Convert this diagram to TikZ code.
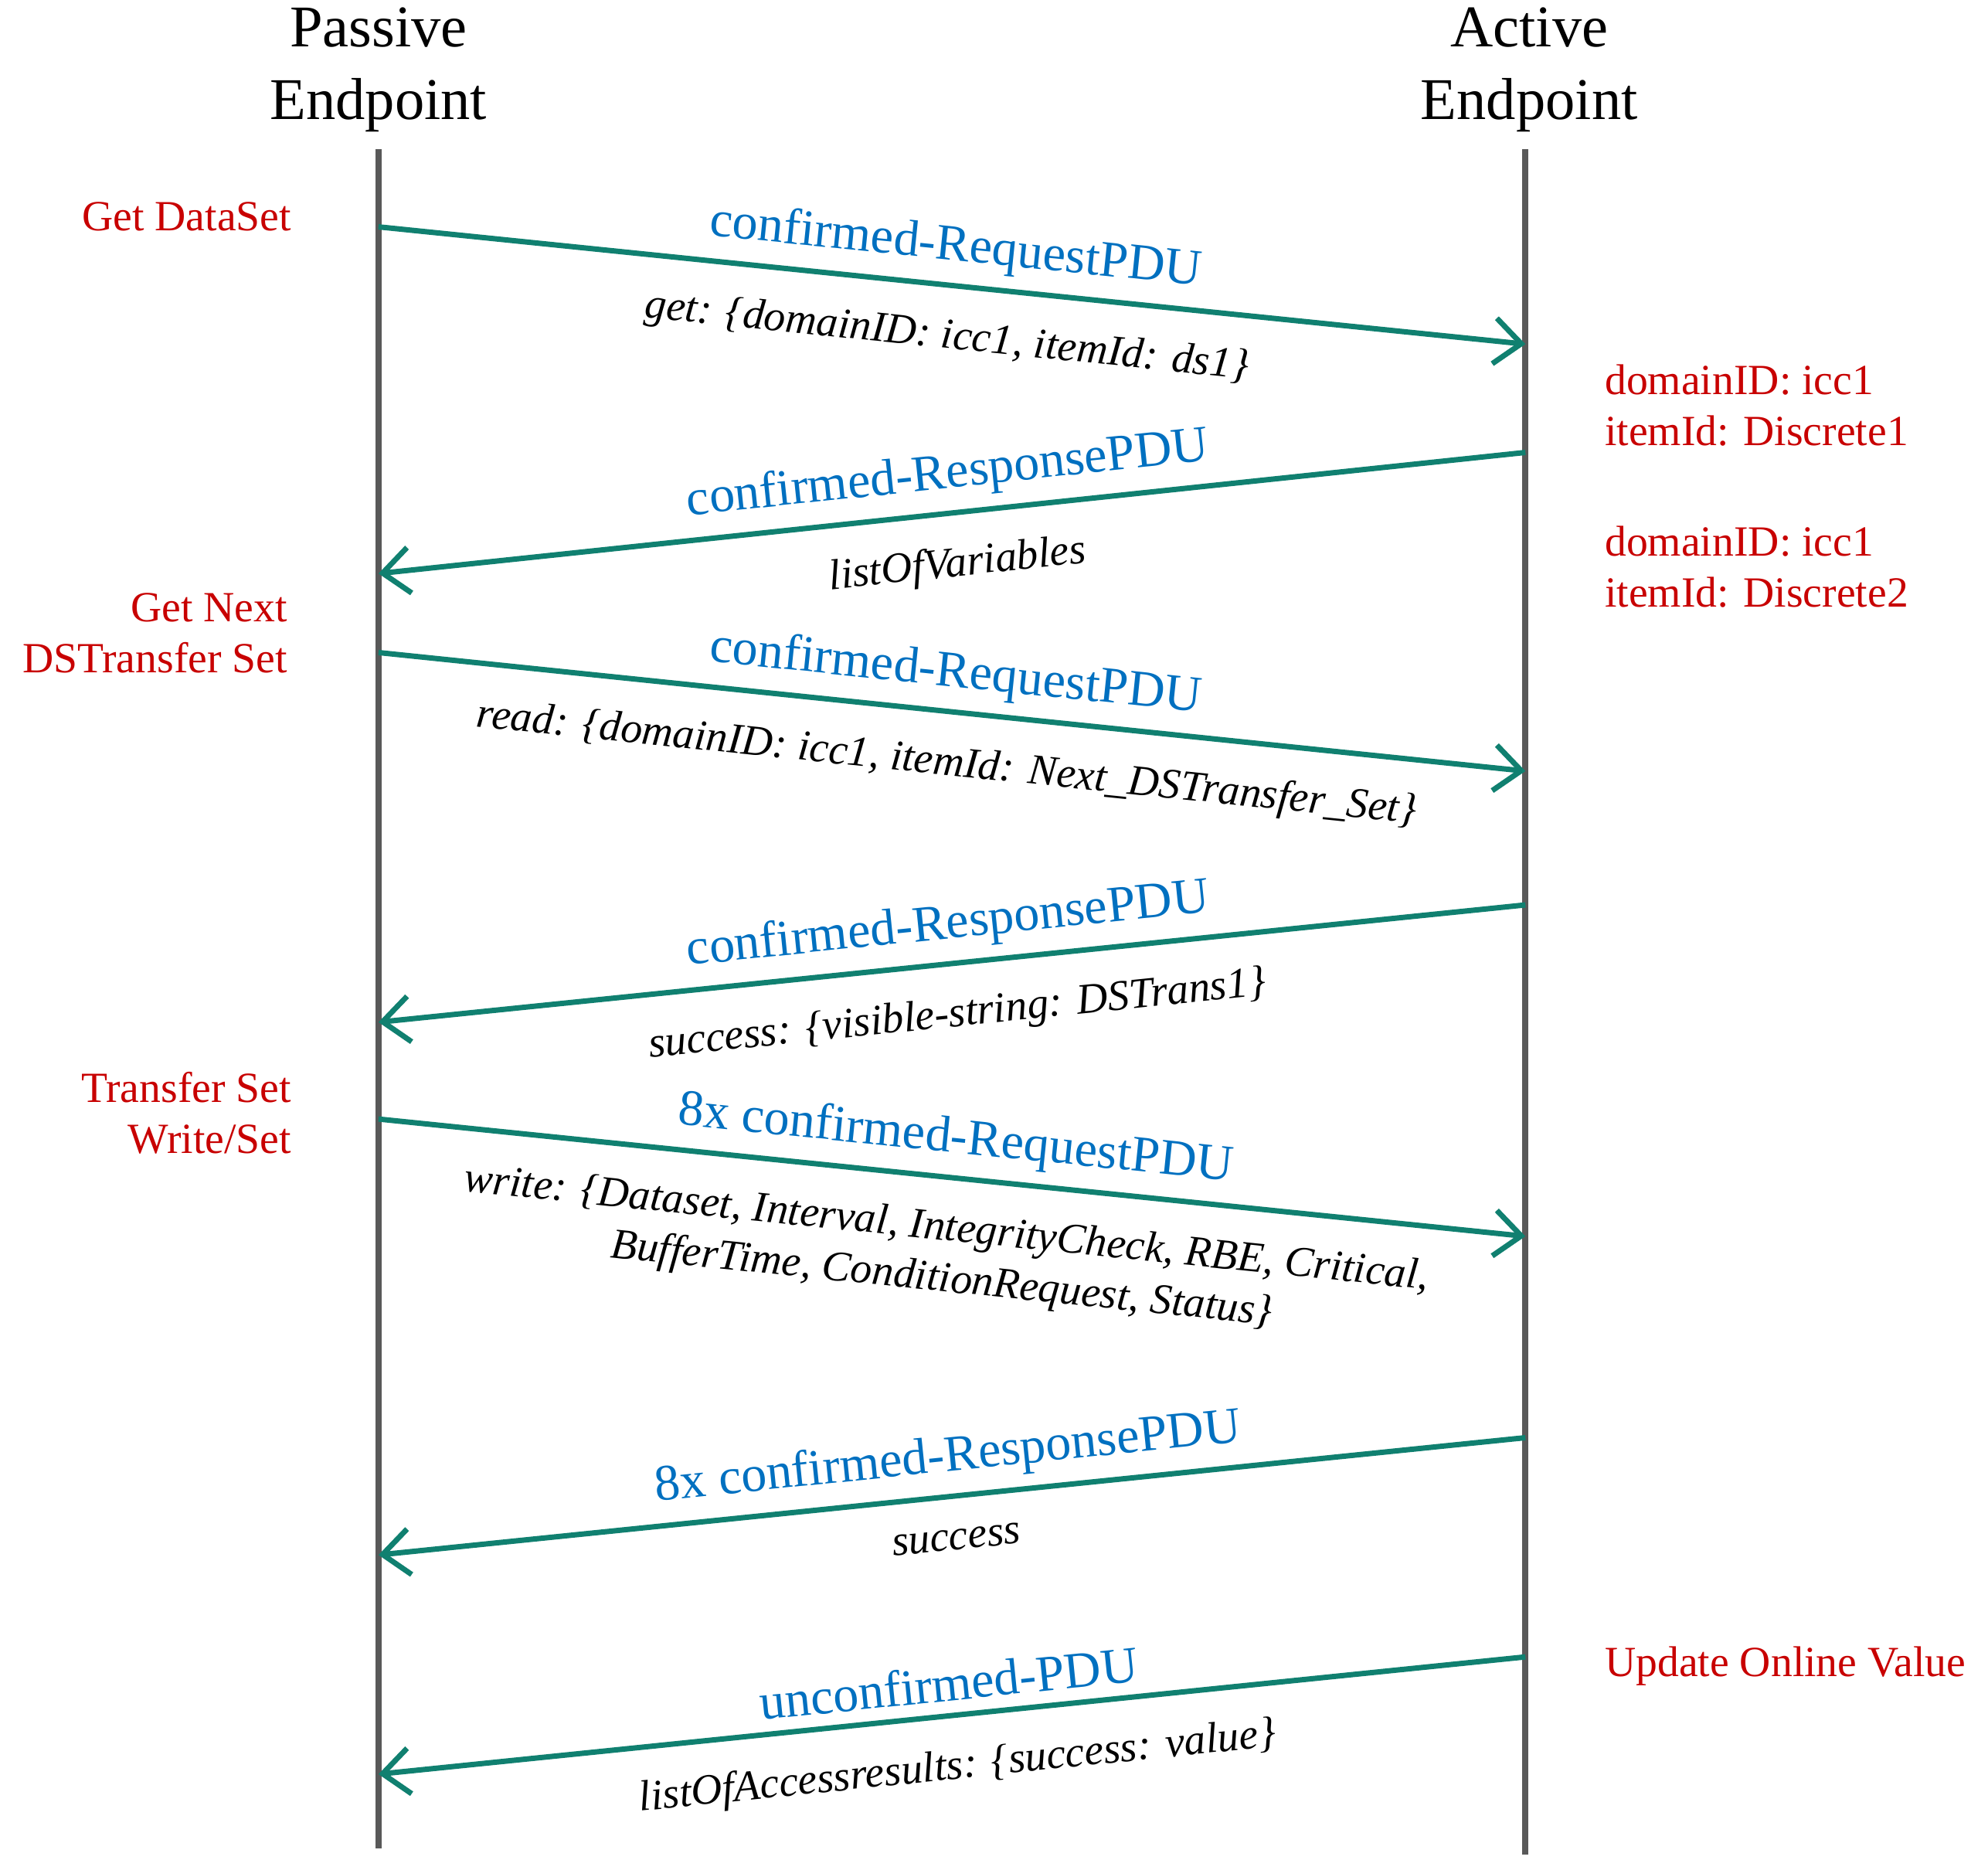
\documentclass[tikz,border=0pt]{standalone}
\usepackage{fontspec}
\setmainfont{Liberation Serif}
\usetikzlibrary{arrows.meta}
\definecolor{msgteal}{RGB}{16,128,112}
\definecolor{pdublue}{RGB}{0,112,192}
\definecolor{notered}{RGB}{200,0,0}
\definecolor{linegray}{RGB}{89,89,89}
\tikzset{
  lifeline/.style={line width=2.4pt,linegray},
  msg/.style={line width=2pt,msgteal,-{Straight Barb[length=10pt,width=17pt,line width=2pt]}},
  msgback/.style={line width=2pt,msgteal,{Straight Barb[length=10pt,width=17pt,line width=2pt]}-},
  pdu/.style={pdublue,font=\fontsize{19}{22}\selectfont,sloped,above=1pt},
  args/.style={black,font=\fontsize{16}{19}\selectfont\itshape,sloped,below=8pt,align=center},
  head/.style={font=\fontsize{22}{27}\selectfont,align=center},
  note/.style={notered,font=\fontsize{16}{19}\selectfont}
}
\begin{document}
\begin{tikzpicture}[x=0.016667cm,y=-0.016667cm]
\useasboundingbox (0,0) rectangle (1560,1459);
% endpoints
\node[head] (passive) at (297,55) {Passive\\Endpoint};
\node[head] (active) at (1200,55) {Active\\Endpoint};
\coordinate (ptop) at (297,117); \coordinate (pbot) at (297,1450);
\coordinate (atop) at (1197,117); \coordinate (abot) at (1197,1455);
\draw[lifeline] (ptop) -- (pbot);
\draw[lifeline] (atop) -- (abot);
% message ends
\coordinate (p1) at (297,178);  \coordinate (a1) at (1197,270);
\coordinate (p2) at (297,450);  \coordinate (a2) at (1197,355);
\coordinate (p3) at (297,512);  \coordinate (a3) at (1197,605);
\coordinate (p4) at (297,802);  \coordinate (a4) at (1197,710);
\coordinate (p5) at (297,878);  \coordinate (a5) at (1197,970);
\coordinate (p6) at (297,1220); \coordinate (a6) at (1197,1128);
\coordinate (p7) at (297,1392); \coordinate (a7) at (1197,1300);
% messages
\draw[msg] (p1) -- node[pdu] {confirmed-RequestPDU} node[args] {get: \{domainID: icc1, itemId: ds1\}} (a1);
\draw[msgback] (p2) -- node[pdu] {confirmed-ResponsePDU} node[args] {listOfVariables} (a2);
\draw[msg] (p3) -- node[pdu] {confirmed-RequestPDU} node[args] {read: \{domainID: icc1, itemId: Next\_DSTransfer\_Set\}} (a3);
\draw[msgback] (p4) -- node[pdu] {confirmed-ResponsePDU} node[args] {success: \{visible-string: DSTrans1\}} (a4);
\draw[msg] (p5) -- node[pdu] {8x confirmed-RequestPDU} node[args] {write: \{Dataset, Interval, IntegrityCheck, RBE, Critical,\\BufferTime, ConditionRequest, Status\}} (a5);
\draw[msgback] (p6) -- node[pdu] {8x confirmed-ResponsePDU} node[args] {success} (a6);
\draw[msgback] (p7) -- node[pdu] {unconfirmed-PDU} node[args] {listOfAccessresults: \{success: value\}} (a7);
% notes
\node[note,anchor=east] (getds) at (236,170) {Get DataSet};
\node[note,anchor=east,align=right] (getnext) at (233,497) {Get Next\\DSTransfer Set};
\node[note,anchor=east,align=right] (tswrite) at (236,873) {Transfer Set\\Write/Set};
\node[note,anchor=west,align=left] (disc1) at (1252,318) {domainID: icc1\\itemId: Discrete1};
\node[note,anchor=west,align=left] (disc2) at (1252,445) {domainID: icc1\\itemId: Discrete2};
\node[note,anchor=west] (update) at (1252,1307) {Update Online Value};
\end{tikzpicture}
\end{document}
